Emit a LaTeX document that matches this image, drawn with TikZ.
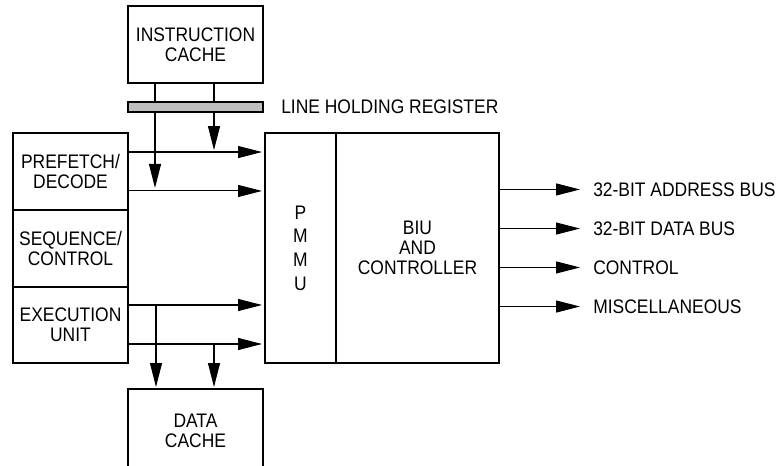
\documentclass[tikz,border=0pt]{standalone}
\usepackage{fontspec}
\setmainfont{Liberation Sans}[FakeStretch=0.89]
\usetikzlibrary{arrows.meta,positioning}

\begin{document}
\begin{tikzpicture}[
    x=0.75pt, y=-0.75pt,
    block/.style={draw, line width=0.8pt, align=center, font=\fontsize{14.7}{15}\selectfont, inner sep=0pt, outer sep=0pt},
    buslabel/.style={anchor=west, inner sep=0pt, font=\fontsize{14.7}{15}\selectfont},
    arrow/.style={-{Triangle[length=18pt,width=9pt]}, line width=0.8pt}
]
\useasboundingbox (0,0) rectangle (781,466);
\clip (0,0) rectangle (781,466);

% Instruction cache on top
\node[block, minimum width=101.25pt, minimum height=57.75pt] (icache) at (195.5,44.5) {INSTRUCTION\\CACHE};

% Processor units stacked on the left
\node[block, minimum width=86.25pt, minimum height=57.75pt] (prefetch) at (70.5,171.5) {PREFETCH/\\DECODE};
\node[block, minimum width=86.25pt, minimum height=57.75pt, below=0pt of prefetch] (sequence) {SEQUENCE/\\CONTROL};
\node[block, minimum width=86.25pt, minimum height=57pt, below=0pt of sequence] (exec) {EXECUTION\\UNIT};

% PMMU and bus interface
\node[block, minimum width=53.25pt, minimum height=172.5pt] (pmmu) at (300.5,248) {P\\[2.8pt]M\\[2.8pt]M\\[2.8pt]U};
\node[block, minimum width=122.25pt, minimum height=172.5pt, right=0pt of pmmu] (biu) {BIU\\AND\\CONTROLLER};

% Data cache (cut by the lower edge)
\node[block, minimum width=101.25pt, minimum height=62.25pt] (dcache) at (195.5,430.5) {DATA\\CACHE};

% Tap points
\coordinate (pf1) at ([yshift=14.6pt]prefetch.east);
\coordinate (pf2) at ([yshift=-14.6pt]prefetch.east);
\coordinate (ex1) at ([yshift=15pt]exec.east);
\coordinate (ex2) at ([yshift=-14.25pt]exec.east);
\coordinate (ia) at (155,0);
\coordinate (ib) at (214,0);
\coordinate (da) at (156,0);

% Instruction fetch paths
\draw[arrow, shorten >=2.25pt] (ia |- icache.south) -- (ia |- pf2);
\draw[arrow, shorten >=1.5pt] (ib |- icache.south) -- (ib |- pf1);

% Line holding register
\node[draw, fill=gray!50, line width=0.8pt, minimum width=101.25pt, minimum height=7.5pt, inner sep=0pt, outer sep=0pt] (lhr) at (195.5,107) {};
\node[buslabel, right=13.5pt of lhr] (lhrlabel) {LINE HOLDING REGISTER};

% Paths into the PMMU
\draw[arrow, shorten >=2.25pt] (pf1) -- (pf1 -| pmmu.west);
\draw[arrow, shorten >=2.25pt] (pf2) -- (pf2 -| pmmu.west);
\draw[arrow, shorten >=2.25pt] (ex1) -- (ex1 -| pmmu.west);
\draw[arrow, shorten >=2.25pt] (ex2) -- (ex2 -| pmmu.west);

% Data cache paths
\draw[arrow, shorten >=1.5pt] (da |- ex1) -- (da |- dcache.north);
\draw[arrow, shorten >=1.5pt] (ib |- ex2) -- (ib |- dcache.north);

% External buses
\foreach \dy/\busname [count=\i] in {43.9/32-BIT ADDRESS BUS, 14.6/32-BIT DATA BUS, -14.6/CONTROL, -43.9/MISCELLANEOUS} {
    \coordinate (bus\i) at ([yshift=\dy pt]biu.east);
    \draw[arrow] (bus\i) -- ++(81,0) coordinate (tip\i);
    \node[buslabel, right=9.75pt of tip\i] (buslabel\i) {\busname};
}

\end{tikzpicture}
\end{document}
